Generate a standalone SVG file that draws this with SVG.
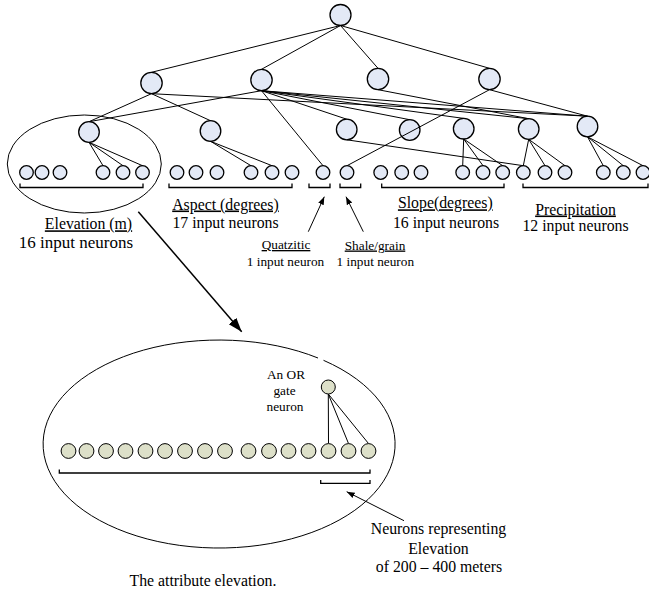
<svg xmlns="http://www.w3.org/2000/svg" width="649" height="592" viewBox="0 0 649 592">
<defs>
<marker id="ahBig" markerUnits="userSpaceOnUse" markerWidth="16" markerHeight="12" refX="14" refY="5" orient="auto"><path d="M0,0 L14,5 L0,10 Z" fill="#000"/></marker>
<marker id="ahSmall" markerUnits="userSpaceOnUse" markerWidth="10" markerHeight="8" refX="8" refY="3" orient="auto"><path d="M0,0 L8,3 L0,6 Z" fill="#000"/></marker>
</defs>
<style>
.n{fill:#e3e9f6;stroke:#000;stroke-width:1.3}
.g{fill:#dde0c9;stroke:#000;stroke-width:1}
.e{stroke:#000;stroke-width:1;fill:none}
.br{stroke:#000;stroke-width:1.3;fill:none}
.t{font-family:"Liberation Serif","DejaVu Serif",serif;font-size:15.8px;fill:#000;text-anchor:middle}
.s{font-family:"Liberation Serif","DejaVu Serif",serif;font-size:13.3px;fill:#000;text-anchor:middle}
.u{text-decoration:underline}
</style>
<rect width="649" height="592" fill="#fff"/>

<g id="nodes-top">
<circle id="top" class="n" cx="340.5" cy="15" r="10.5"/>
<circle id="n1" class="n" cx="151.5" cy="83" r="10.7"/>
<circle id="n2" class="n" cx="261.5" cy="80" r="10.7"/>
<circle id="n3" class="n" cx="378" cy="79" r="10.7"/>
<circle id="n4" class="n" cx="489.5" cy="79" r="10.7"/>
</g>
<g id="nodes-hidden">
<circle id="h1" class="n" cx="89" cy="132" r="10.3"/>
<circle id="h2" class="n" cx="210.5" cy="131" r="10.3"/>
<circle id="h3" class="n" cx="346.7" cy="129.5" r="10.3"/>
<circle id="h4" class="n" cx="409.7" cy="130" r="10.3"/>
<circle id="h5" class="n" cx="463.7" cy="128.7" r="10.3"/>
<circle id="h6" class="n" cx="528.7" cy="129" r="10.3"/>
<circle id="h7" class="n" cx="587.5" cy="126.5" r="10.3"/>
</g>
<g id="nodes-inputs">
<g id="elev-inputs">
<circle class="n" cx="26.5" cy="172.5" r="6.8"/><circle class="n" cx="42" cy="172.5" r="6.8"/><circle class="n" cx="60" cy="172.5" r="6.8"/>
<circle class="n" cx="103" cy="172.5" r="6.8"/><circle class="n" cx="123" cy="172.5" r="6.8"/><circle class="n" cx="142.5" cy="172.5" r="6.8"/>
</g>
<g id="aspect-inputs">
<circle class="n" cx="177" cy="172.5" r="6.8"/><circle class="n" cx="196" cy="172.5" r="6.8"/><circle class="n" cx="217" cy="172.5" r="6.8"/>
<circle class="n" cx="251" cy="172.5" r="6.8"/><circle class="n" cx="272" cy="172.5" r="6.8"/><circle class="n" cx="292" cy="172.5" r="6.8"/>
</g>
<g id="quatzitic-input"><circle class="n" cx="323" cy="172.5" r="6.8"/></g>
<g id="shale-input"><circle class="n" cx="347" cy="172.5" r="6.8"/></g>
<g id="slope-inputs">
<circle class="n" cx="380.7" cy="172.5" r="6.8"/><circle class="n" cx="401.7" cy="172.5" r="6.8"/><circle class="n" cx="421" cy="172.5" r="6.8"/>
<circle class="n" cx="462.7" cy="172.5" r="6.8"/><circle class="n" cx="483" cy="172.5" r="6.8"/><circle class="n" cx="502.7" cy="172.5" r="6.8"/>
</g>
<g id="precip-inputs">
<circle class="n" cx="523.3" cy="172.5" r="6.8"/><circle class="n" cx="545" cy="172.5" r="6.8"/><circle class="n" cx="565" cy="172.5" r="6.8"/>
<circle class="n" cx="603.3" cy="172.5" r="6.8"/><circle class="n" cx="623.3" cy="172.5" r="6.8"/><circle class="n" cx="643" cy="172.5" r="6.8"/>
</g>
</g>

<g id="connectors">
<path class="e" d="M340.5,25.5 L151.5,72.3 M340.5,25.5 L261.5,69.3 M340.5,25.5 L378,68.3 M340.5,25.5 L489.5,68.3"/>
<path class="e" d="M151.5,93.7 L89,121.7 M151.5,93.7 L210.5,120.7 M151.5,93.7 L587.5,116.2"/>
<path class="e" d="M261.5,90.7 L89,121.7 M261.5,90.7 L346.7,119.2 M261.5,90.7 L409.7,119.7 M261.5,90.7 L463.7,118.4 M261.5,90.7 L528.7,118.7 M261.5,90.7 L587.5,116.2 M261.5,90.7 L323,165.7"/>
<path class="e" d="M378,89.7 L528.7,118.7"/>
<path class="e" d="M489.5,89.7 L587.5,116.2 M489.5,89.7 L347,165.7"/>
<path class="e" d="M89,142.3 L103,165.7 M89,142.3 L123,165.7 M89,142.3 L142.5,165.7"/>
<path class="e" d="M210.5,141.3 L251,165.7 M210.5,141.3 L272,165.7"/>
<path class="e" d="M346.7,139.8 L523.3,165.7"/>
<path class="e" d="M463.7,139 L462.7,165.7 M463.7,139 L483,165.7 M463.7,139 L502.7,165.7"/>
<path class="e" d="M528.7,139.3 L523.3,165.7 M528.7,139.3 L545,165.7 M528.7,139.3 L565,165.7"/>
<path class="e" d="M587.5,136.8 L603.3,165.7 M587.5,136.8 L623.3,165.7 M587.5,136.8 L643,165.7"/>
<line x1="138.3" y1="211.7" x2="241.7" y2="331.7" stroke="#000" stroke-width="1.5" marker-end="url(#ahBig)"/>
<line x1="308.3" y1="231.7" x2="324.3" y2="196.7" stroke="#000" stroke-width="1" marker-end="url(#ahSmall)"/>
<line x1="363.3" y1="231.7" x2="346" y2="196.7" stroke="#000" stroke-width="1" marker-end="url(#ahSmall)"/>
<line x1="404" y1="520.7" x2="346.7" y2="491.7" stroke="#000" stroke-width="1" marker-end="url(#ahSmall)"/>
<path class="e" d="M328.3,394 L328.5,443.5 M328.3,394 L348.5,443.5 M328.3,394 L368.5,443.5"/>
</g>

<g id="brackets">
<path class="br" d="M20,183.5 V187.5 H143 V183.5"/>
<path class="br" d="M169,183.5 V187.5 H292 V183.5"/>
<path class="br" d="M309,183.5 V187.5 H330 V183.5"/>
<path class="br" d="M340,183.5 V187.5 H360.7 V183.5"/>
<path class="br" d="M381.7,183.5 V187.5 H504 V183.5"/>
<path class="br" d="M523,183.5 V187.5 H648 V183.5"/>
<path class="br" d="M59.3,469.5 V473 H370 V469.5"/>
<path class="br" d="M320.7,480 V483.3 H370 V480"/>
</g>

<g id="elevation-group">
<ellipse cx="84.3" cy="164" rx="77" ry="49" fill="none" stroke="#000" stroke-width="1"/>
</g>

<g id="labels">
<text class="t u" x="88.5" y="229.3">Elevation (m)</text>
<text class="t" x="76" y="247.5" style="font-size:17px">16 input neurons</text>
<text class="t u" x="225.5" y="209.5">Aspect (degrees)</text>
<text class="t" x="225.5" y="228">17 input neurons</text>
<text class="s u" x="286" y="249">Quatzitic</text>
<text class="s" x="285.5" y="266">1 input neuron</text>
<text class="s u" x="375" y="249.5">Shale/grain</text>
<text class="s" x="375.3" y="265.5">1 input neuron</text>
<text class="t u" x="445.3" y="208.3">Slope(degrees)</text>
<text class="t" x="446" y="227.5">16 input neurons</text>
<text class="t u" x="575.5" y="214.5">Precipitation</text>
<text class="t" x="575.5" y="230.7">12 input neurons</text>
</g>

<g id="attribute-elevation">
<path d="M323.5,360.3 A176,104 0 1 1 318,358" fill="none" stroke="#000" stroke-width="1"/>
<circle id="or-gate" class="g" cx="328.3" cy="387" r="7"/>
<g id="elev-neurons">
<circle class="g" cx="68.5" cy="451" r="7.4"/><circle class="g" cx="86.5" cy="451" r="7.4"/><circle class="g" cx="106" cy="451" r="7.4"/>
<circle class="g" cx="125.5" cy="451" r="7.4"/><circle class="g" cx="145.5" cy="451" r="7.4"/><circle class="g" cx="165" cy="451" r="7.4"/>
<circle class="g" cx="185" cy="451" r="7.4"/><circle class="g" cx="205" cy="451" r="7.4"/><circle class="g" cx="225" cy="451" r="7.4"/>
<circle class="g" cx="248.5" cy="451" r="7.4"/><circle class="g" cx="269" cy="451" r="7.4"/><circle class="g" cx="288.5" cy="451" r="7.4"/>
<circle class="g" cx="308.5" cy="451" r="7.4"/><circle class="g" cx="328.5" cy="451" r="7.4"/><circle class="g" cx="348.5" cy="451" r="7.4"/>
<circle class="g" cx="368.5" cy="451" r="7.4"/>
</g>
<text class="s" x="286" y="379">An OR</text>
<text class="s" x="284.5" y="394.5">gate</text>
<text class="s" x="285" y="410.5">neuron</text>
<text class="t" x="438.5" y="533.5">Neurons representing</text>
<text class="t" x="438.5" y="553.5">Elevation</text>
<text class="t" x="439" y="572">of 200 – 400 meters</text>
<text class="t" x="203" y="585.5">The attribute elevation.</text>
</g>
</svg>
